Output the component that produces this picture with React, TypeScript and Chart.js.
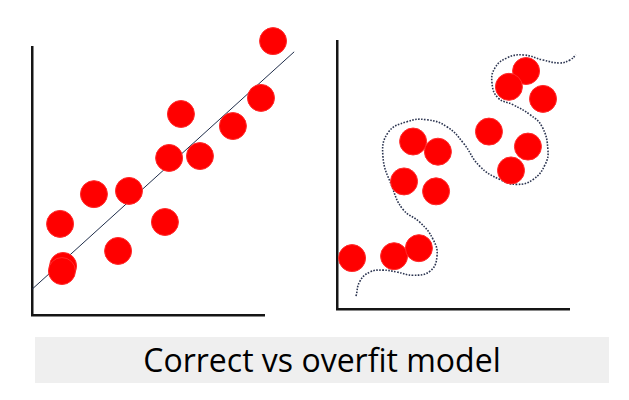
import React, { useEffect, useRef } from "react";
import { Chart, registerables } from "chart.js";

Chart.register(...registerables);

// Left panel: "correct" model — observations and fitted straight line
const leftX = [10.39, 9.87, 6.42, 8.66, 5.91, 7.24, 2.67, 4.18, 1.21, 5.73, 3.71, 1.34, 1.29];
const leftY = [10.22, 8.1, 7.5, 7.05, 5.86, 5.93, 4.51, 4.63, 3.4, 3.47, 2.39, 1.83, 1.64];
const fitX = [0, 11.3];
const fitY = [0.96, 9.82];

// Right panel: "overfit" model — observations and wiggly curve
const rightX = [8.15, 7.41, 8.88, 6.55, 3.28, 4.35, 8.23, 7.5, 2.89, 4.27, 0.65, 2.46, 3.53];
const rightY = [8.88, 8.29, 7.84, 6.62, 6.25, 5.87, 6.06, 5.17, 4.76, 4.39, 1.9, 1.97, 2.27];
const curveX = [0.82, 0.99, 1.42, 1.98, 2.59, 3.28, 4.01, 4.31, 4.14, 3.58, 2.84, 2.37, 1.98, 2.2, 3.02, 3.88, 4.74, 5.43, 6.16, 7.03, 7.76, 8.45, 8.97, 9.09, 8.84, 8.32, 7.59, 6.94, 6.68, 6.81, 7.33, 8.02, 8.88, 9.61, 10.04, 10.3];
const curveY = [0.48, 1.04, 1.38, 1.45, 1.38, 1.26, 1.41, 1.97, 2.6, 3.23, 3.72, 4.57, 5.69, 6.58, 6.99, 7.06, 6.8, 6.21, 5.32, 4.83, 4.65, 4.83, 5.39, 5.95, 6.8, 7.25, 7.62, 7.88, 8.44, 9.0, 9.37, 9.48, 9.29, 9.18, 9.29, 9.48];

const titleText = "Correct vs overfit model";

const zip = (xs: number[], ys: number[]) => xs.map((x, i) => ({ x, y: ys[i] }));

function axisOpts() {
  return {
    min: 0,
    max: 10,
    display: true,
    grid: { display: false, drawTicks: false },
    ticks: { display: false },
    border: { display: true, color: "#151515", width: 2.5 },
  };
}

function Panel({
  pts,
  line,
  dashed,
  padding,
  style,
}: {
  pts: { x: number; y: number }[];
  line: { x: number; y: number }[];
  dashed: boolean;
  padding: { left: number; top: number; right: number; bottom: number };
  style: React.CSSProperties;
}) {
  const ref = useRef<HTMLCanvasElement>(null);
  useEffect(() => {
    if (!ref.current) return;
    const chart = new Chart(ref.current, {
      type: "scatter",
      data: {
        datasets: [
          {
            data: pts,
            backgroundColor: "#ff0000",
            borderColor: "#ff2a2a",
            borderWidth: 1,
            pointRadius: 13.5,
            clip: false as any,
          },
          {
            data: line,
            showLine: true,
            pointRadius: 0,
            borderColor: dashed ? "#2b3450" : "#1f2d4a",
            borderWidth: dashed ? 1.6 : 1,
            borderDash: dashed ? [1.6, 1.4] : [],
            tension: dashed ? 0.45 : 0,
            clip: false as any,
          },
        ],
      },
      options: {
        animation: false,
        responsive: true,
        maintainAspectRatio: false,
        events: [],
        layout: { padding },
        plugins: { legend: { display: false }, tooltip: { enabled: false } },
        scales: { x: axisOpts() as any, y: axisOpts() as any },
      },
    });
    return () => chart.destroy();
  }, []);
  return (
    <div style={{ position: "absolute", ...style }}>
      <canvas ref={ref} />
    </div>
  );
}

export default function App() {
  return (
    <div
      style={{
        position: "fixed",
        left: 0,
        top: 0,
        width: 629,
        height: 400,
        background: "#ffffff",
        overflow: "hidden",
      }}
    >
      <Panel
        pts={zip(leftX, leftY)}
        line={zip(fitX, fitY)}
        dashed={false}
        padding={{ left: 32, top: 47, right: 50, bottom: 15 }}
        style={{ left: 0, top: 0, width: 314, height: 330 }}
      />
      <Panel
        pts={zip(rightX, rightY)}
        line={zip(curveX, curveY)}
        dashed={true}
        padding={{ left: 23, top: 41, right: 60, bottom: 21 }}
        style={{ left: 314, top: 0, width: 315, height: 330 }}
      />
      <div
        style={{
          position: "absolute",
          left: 35,
          top: 337,
          width: 574,
          height: 46,
          background: "#efefef",
          color: "#000",
          fontFamily: "'Open Sans', 'Noto Sans', sans-serif",
          fontSize: 32,
          lineHeight: "46px",
          textAlign: "center",
        }}
      >
        {titleText}
      </div>
    </div>
  );
}
